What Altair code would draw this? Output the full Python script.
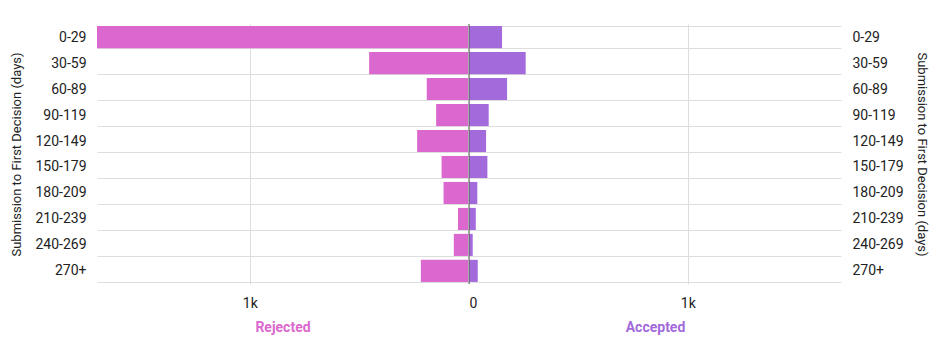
import altair as alt
import pandas as pd

categories = ["0-29", "30-59", "60-89", "90-119", "120-149", "150-179",
              "180-209", "210-239", "240-269", "270+"]
rejected = [1700, 453, 189, 146, 233, 121, 112, 46, 65, 216]
accepted = [151, 259, 174, 90, 78, 84, 38, 31, 17, 40]

PINK = "#DA68CE"
PURPLE = "#A36ADB"
FONT = "Roboto"
YTITLE = "Submission to First Decision (days)"
XMAX = 1700

df_rej = pd.DataFrame({"bin": categories, "value": rejected})
df_acc = pd.DataFrame({"bin": categories, "value": accepted})
df_zero = pd.DataFrame({"v": [0]})

ysc = alt.Scale(domain=categories, paddingInner=0.15, paddingOuter=0.08)


def yaxis(orient):
    return alt.Axis(orient=orient, title=YTITLE, ticks=False, domain=False,
                    grid=True, tickBand="extent", gridColor="#dddddd",
                    labelFont=FONT, labelFontSize=14, labelColor="#222222",
                    labelPadding=11, titleFont=FONT, titleFontSize=13,
                    titleFontWeight="normal", titleColor="#222222",
                    titlePadding=11)


def xaxis(title, color, values):
    return alt.Axis(title=title, values=values,
                    labelExpr="datum.value == 0 ? '0' : (datum.value / 1000) + 'k'",
                    ticks=False, domain=False, grid=True, gridColor="#dddddd",
                    labelFont=FONT, labelFontSize=14, labelColor="#222222",
                    labelPadding=12, titleFont=FONT, titleFontSize=14,
                    titleFontWeight="bold", titleColor=color, titlePadding=10)


left = alt.Chart(df_rej).mark_bar(color=PINK).encode(
    x=alt.X("value:Q", scale=alt.Scale(domain=[0, XMAX], reverse=True, nice=False),
            axis=xaxis("Rejected", PINK, [1000])),
    y=alt.Y("bin:N", sort=categories, scale=ysc, axis=yaxis("left")),
).properties(width=371, height=260)

right_bars = alt.Chart(df_acc).mark_bar(color=PURPLE).encode(
    x=alt.X("value:Q", scale=alt.Scale(domain=[0, XMAX], nice=False),
            axis=xaxis("Accepted", PURPLE, [0, 1000])),
    y=alt.Y("bin:N", sort=categories, scale=ysc, axis=yaxis("right")),
)
zero = alt.Chart(df_zero).mark_rule(color="#555555", strokeWidth=1).encode(
    x=alt.X("v:Q")
)
right = alt.layer(right_bars, zero).properties(width=372, height=260)

chart = alt.hconcat(left, right, spacing=0).properties(
    padding={"left": 10, "top": 17, "right": 5, "bottom": 5}
).configure_view(strokeWidth=0)

chart.save("out.html", embed_options={"renderer": "svg", "actions": False})
